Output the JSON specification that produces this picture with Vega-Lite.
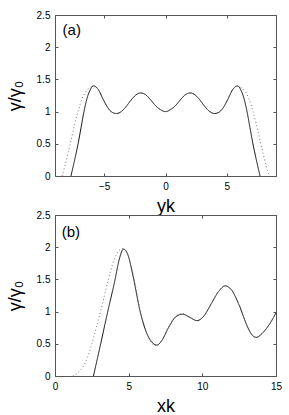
{
  "$schema": "https://vega.github.io/schema/vega-lite/v6.json",
  "padding": {"left": 5, "top": 9, "right": 10, "bottom": 5},
  "background": "white",
  "spacing": 39,
  "bounds": "flush",
  "config": {
    "font": "Liberation Sans",
    "view": {"stroke": "#555", "strokeWidth": 1},
    "axis": {"grid": false, "domain": false, "tickColor": "#555", "tickSize": -3, "labelPadding": 8, "labelFontSize": 10, "labelColor": "#000", "labelFont": "Liberation Sans", "titleFont": "Liberation Sans", "titleFontSize": 18, "titleFontWeight": "normal", "titleColor": "#000", "labelFlush": false, "labelOverlap": false},
    "axisX": {"titlePadding": 6},
    "axisY": {"titlePadding": 12},
    "line": {"strokeWidth": 1}
  },
  "datasets": {
    "a": [
      {"x": -7.7, "y": 0, "s": "solid"}, {"x": -7.4, "y": 0.25, "s": "solid"}, {"x": -7.12, "y": 0.5, "s": "solid"}, {"x": -6.88, "y": 0.75, "s": "solid"}, {"x": -6.64, "y": 1.0, "s": "solid"}, {"x": -6.4, "y": 1.2, "s": "solid"}, {"x": -6.15, "y": 1.33, "s": "solid"}, {"x": -5.88, "y": 1.4, "s": "solid"}, {"x": -5.5, "y": 1.35, "s": "solid"}, {"x": -5.1, "y": 1.2, "s": "solid"}, {"x": -4.7, "y": 1.06, "s": "solid"}, {"x": -4.35, "y": 0.99, "s": "solid"}, {"x": -4.0, "y": 0.97, "s": "solid"}, {"x": -3.6, "y": 1.0, "s": "solid"}, {"x": -3.2, "y": 1.08, "s": "solid"}, {"x": -2.8, "y": 1.18, "s": "solid"}, {"x": -2.4, "y": 1.26, "s": "solid"}, {"x": -2.03, "y": 1.29, "s": "solid"}, {"x": -1.6, "y": 1.26, "s": "solid"}, {"x": -1.2, "y": 1.18, "s": "solid"}, {"x": -0.8, "y": 1.09, "s": "solid"}, {"x": -0.4, "y": 1.03, "s": "solid"}, {"x": 0, "y": 1.0, "s": "solid"},
      {"x": 0.4, "y": 1.03, "s": "solid"}, {"x": 0.8, "y": 1.09, "s": "solid"}, {"x": 1.2, "y": 1.18, "s": "solid"}, {"x": 1.6, "y": 1.26, "s": "solid"}, {"x": 2.03, "y": 1.29, "s": "solid"}, {"x": 2.4, "y": 1.26, "s": "solid"}, {"x": 2.8, "y": 1.18, "s": "solid"}, {"x": 3.2, "y": 1.08, "s": "solid"}, {"x": 3.6, "y": 1.0, "s": "solid"}, {"x": 4.0, "y": 0.97, "s": "solid"}, {"x": 4.35, "y": 0.99, "s": "solid"}, {"x": 4.7, "y": 1.06, "s": "solid"}, {"x": 5.1, "y": 1.2, "s": "solid"}, {"x": 5.5, "y": 1.35, "s": "solid"}, {"x": 5.88, "y": 1.4, "s": "solid"}, {"x": 6.15, "y": 1.33, "s": "solid"}, {"x": 6.4, "y": 1.2, "s": "solid"}, {"x": 6.64, "y": 1.0, "s": "solid"}, {"x": 6.88, "y": 0.75, "s": "solid"}, {"x": 7.12, "y": 0.5, "s": "solid"}, {"x": 7.4, "y": 0.25, "s": "solid"}, {"x": 7.7, "y": 0, "s": "solid"},
      {"x": -8.43, "y": 0, "s": "dotted"}, {"x": -8.2, "y": 0.15, "s": "dotted"}, {"x": -7.95, "y": 0.35, "s": "dotted"}, {"x": -7.7, "y": 0.55, "s": "dotted"}, {"x": -7.4, "y": 0.8, "s": "dotted"}, {"x": -7.1, "y": 1.02, "s": "dotted"}, {"x": -6.8, "y": 1.2, "s": "dotted"}, {"x": -6.5, "y": 1.31, "s": "dotted"}, {"x": -6.2, "y": 1.37, "s": "dotted"}, {"x": -5.88, "y": 1.39, "s": "dotted"}, {"x": -5.5, "y": 1.35, "s": "dotted"}, {"x": -5.1, "y": 1.2, "s": "dotted"}, {"x": -4.7, "y": 1.06, "s": "dotted"}, {"x": -4.35, "y": 0.99, "s": "dotted"}, {"x": -4.0, "y": 0.97, "s": "dotted"}, {"x": -3.6, "y": 1.0, "s": "dotted"}, {"x": -3.2, "y": 1.08, "s": "dotted"}, {"x": -2.8, "y": 1.18, "s": "dotted"}, {"x": -2.4, "y": 1.26, "s": "dotted"}, {"x": -2.03, "y": 1.29, "s": "dotted"}, {"x": -1.6, "y": 1.26, "s": "dotted"}, {"x": -1.2, "y": 1.18, "s": "dotted"}, {"x": -0.8, "y": 1.09, "s": "dotted"}, {"x": -0.4, "y": 1.03, "s": "dotted"}, {"x": 0, "y": 1.0, "s": "dotted"},
      {"x": 0.4, "y": 1.03, "s": "dotted"}, {"x": 0.8, "y": 1.09, "s": "dotted"}, {"x": 1.2, "y": 1.18, "s": "dotted"}, {"x": 1.6, "y": 1.26, "s": "dotted"}, {"x": 2.03, "y": 1.29, "s": "dotted"}, {"x": 2.4, "y": 1.26, "s": "dotted"}, {"x": 2.8, "y": 1.18, "s": "dotted"}, {"x": 3.2, "y": 1.08, "s": "dotted"}, {"x": 3.6, "y": 1.0, "s": "dotted"}, {"x": 4.0, "y": 0.97, "s": "dotted"}, {"x": 4.35, "y": 0.99, "s": "dotted"}, {"x": 4.7, "y": 1.06, "s": "dotted"}, {"x": 5.1, "y": 1.2, "s": "dotted"}, {"x": 5.5, "y": 1.35, "s": "dotted"}, {"x": 5.88, "y": 1.39, "s": "dotted"}, {"x": 6.2, "y": 1.37, "s": "dotted"}, {"x": 6.5, "y": 1.31, "s": "dotted"}, {"x": 6.8, "y": 1.2, "s": "dotted"}, {"x": 7.1, "y": 1.02, "s": "dotted"}, {"x": 7.4, "y": 0.8, "s": "dotted"}, {"x": 7.7, "y": 0.55, "s": "dotted"}, {"x": 7.95, "y": 0.35, "s": "dotted"}, {"x": 8.2, "y": 0.15, "s": "dotted"}, {"x": 8.43, "y": 0, "s": "dotted"}
    ],
    "b": [
      {"x": 2.61, "y": 0, "s": "solid"}, {"x": 3.1, "y": 0.5, "s": "solid"}, {"x": 3.58, "y": 1.0, "s": "solid"}, {"x": 4.08, "y": 1.5, "s": "solid"}, {"x": 4.35, "y": 1.8, "s": "solid"}, {"x": 4.65, "y": 1.97, "s": "solid"}, {"x": 4.95, "y": 1.88, "s": "solid"}, {"x": 5.3, "y": 1.55, "s": "solid"}, {"x": 5.78, "y": 1.0, "s": "solid"}, {"x": 6.2, "y": 0.68, "s": "solid"}, {"x": 6.6, "y": 0.52, "s": "solid"}, {"x": 6.91, "y": 0.48, "s": "solid"}, {"x": 7.25, "y": 0.55, "s": "solid"}, {"x": 7.7, "y": 0.75, "s": "solid"}, {"x": 8.2, "y": 0.92, "s": "solid"}, {"x": 8.66, "y": 0.96, "s": "solid"}, {"x": 9.15, "y": 0.91, "s": "solid"}, {"x": 9.63, "y": 0.86, "s": "solid"}, {"x": 10.1, "y": 0.93, "s": "solid"}, {"x": 10.6, "y": 1.12, "s": "solid"}, {"x": 11.1, "y": 1.31, "s": "solid"}, {"x": 11.55, "y": 1.4, "s": "solid"}, {"x": 12.0, "y": 1.33, "s": "solid"}, {"x": 12.5, "y": 1.1, "s": "solid"}, {"x": 13.0, "y": 0.8, "s": "solid"}, {"x": 13.3, "y": 0.66, "s": "solid"}, {"x": 13.66, "y": 0.6, "s": "solid"}, {"x": 14.1, "y": 0.67, "s": "solid"}, {"x": 14.6, "y": 0.82, "s": "solid"}, {"x": 15.0, "y": 0.98, "s": "solid"},
      {"x": 1.2, "y": 0, "s": "dotted"}, {"x": 1.6, "y": 0.06, "s": "dotted"}, {"x": 2.0, "y": 0.18, "s": "dotted"}, {"x": 2.4, "y": 0.42, "s": "dotted"}, {"x": 2.8, "y": 0.75, "s": "dotted"}, {"x": 3.2, "y": 1.1, "s": "dotted"}, {"x": 3.6, "y": 1.48, "s": "dotted"}, {"x": 4.0, "y": 1.8, "s": "dotted"}, {"x": 4.3, "y": 1.94, "s": "dotted"}, {"x": 4.6, "y": 1.98, "s": "dotted"}, {"x": 4.95, "y": 1.89, "s": "dotted"}, {"x": 5.3, "y": 1.58, "s": "dotted"}, {"x": 5.78, "y": 1.03, "s": "dotted"}, {"x": 6.2, "y": 0.68, "s": "dotted"}, {"x": 6.6, "y": 0.5, "s": "dotted"}, {"x": 6.9, "y": 0.47, "s": "dotted"}, {"x": 7.25, "y": 0.55, "s": "dotted"}, {"x": 7.7, "y": 0.76, "s": "dotted"}, {"x": 8.2, "y": 0.93, "s": "dotted"}, {"x": 8.66, "y": 0.97, "s": "dotted"}, {"x": 9.15, "y": 0.91, "s": "dotted"}, {"x": 9.63, "y": 0.86, "s": "dotted"}, {"x": 10.1, "y": 0.93, "s": "dotted"}, {"x": 10.6, "y": 1.12, "s": "dotted"}, {"x": 11.1, "y": 1.31, "s": "dotted"}, {"x": 11.55, "y": 1.4, "s": "dotted"}, {"x": 12.0, "y": 1.33, "s": "dotted"}, {"x": 12.5, "y": 1.1, "s": "dotted"}, {"x": 13.0, "y": 0.8, "s": "dotted"}, {"x": 13.3, "y": 0.66, "s": "dotted"}, {"x": 13.66, "y": 0.6, "s": "dotted"}, {"x": 14.1, "y": 0.67, "s": "dotted"}, {"x": 14.6, "y": 0.82, "s": "dotted"}, {"x": 15.0, "y": 0.98, "s": "dotted"}
    ]
  },
  "vconcat": [
    {
      "width": 221, "height": 161,
      "data": {"name": "a"},
      "resolve": {"axis": {"x": "independent", "y": "independent"}},
      "layer": [
        {
          "mark": {"type": "line", "interpolate": "monotone"},
          "encoding": {
            "x": {"field": "x", "type": "quantitative", "scale": {"domain": [-9, 9], "nice": false, "zero": false}, "axis": {"values": [-5, 0, 5], "title": "yk"}},
            "y": {"field": "y", "type": "quantitative", "scale": {"domain": [0, 2.5], "nice": false}, "axis": {"values": [0, 0.5, 1, 1.5, 2, 2.5], "format": "~g", "title": "γ/γ₀"}},
            "color": {"field": "s", "type": "nominal", "scale": {"domain": ["solid", "dotted"], "range": ["#111111", "#777777"]}, "legend": null},
            "strokeDash": {"field": "s", "type": "nominal", "scale": {"domain": ["solid", "dotted"], "range": [[1, 0], [1, 2.5]]}, "legend": null}
          }
        },
        {
          "mark": {"type": "line", "opacity": 0},
          "encoding": {
            "x": {"field": "x", "type": "quantitative", "axis": {"orient": "top", "values": [-5, 0, 5], "labels": false, "title": null}},
            "y": {"field": "y", "type": "quantitative", "axis": {"orient": "right", "values": [0, 0.5, 1, 1.5, 2, 2.5], "labels": false, "title": null}}
          }
        },
        {
          "data": {"values": [{}]},
          "mark": {"type": "text", "align": "left", "baseline": "middle", "fontSize": 15, "font": "Liberation Sans"},
          "encoding": {
            "x": {"datum": -8.38, "type": "quantitative", "axis": null},
            "y": {"datum": 2.27, "type": "quantitative", "axis": null},
            "text": {"value": "(a)"}
          }
        }
      ]
    },
    {
      "width": 221, "height": 161,
      "data": {"name": "b"},
      "resolve": {"axis": {"x": "independent", "y": "independent"}},
      "layer": [
        {
          "mark": {"type": "line", "interpolate": "monotone"},
          "encoding": {
            "x": {"field": "x", "type": "quantitative", "scale": {"domain": [0, 15], "nice": false, "zero": false}, "axis": {"values": [0, 5, 10, 15], "title": "xk"}},
            "y": {"field": "y", "type": "quantitative", "scale": {"domain": [0, 2.5], "nice": false}, "axis": {"values": [0, 0.5, 1, 1.5, 2, 2.5], "format": "~g", "title": "γ/γ₀"}},
            "color": {"field": "s", "type": "nominal", "scale": {"domain": ["solid", "dotted"], "range": ["#111111", "#777777"]}, "legend": null},
            "strokeDash": {"field": "s", "type": "nominal", "scale": {"domain": ["solid", "dotted"], "range": [[1, 0], [1, 2.5]]}, "legend": null}
          }
        },
        {
          "mark": {"type": "line", "opacity": 0},
          "encoding": {
            "x": {"field": "x", "type": "quantitative", "axis": {"orient": "top", "values": [0, 5, 10, 15], "labels": false, "title": null}},
            "y": {"field": "y", "type": "quantitative", "axis": {"orient": "right", "values": [0, 0.5, 1, 1.5, 2, 2.5], "labels": false, "title": null}}
          }
        },
        {
          "data": {"values": [{}]},
          "mark": {"type": "text", "align": "left", "baseline": "middle", "fontSize": 15, "font": "Liberation Sans"},
          "encoding": {
            "x": {"datum": 0.46, "type": "quantitative", "axis": null},
            "y": {"datum": 2.24, "type": "quantitative", "axis": null},
            "text": {"value": "(b)"}
          }
        }
      ]
    }
  ]
}
